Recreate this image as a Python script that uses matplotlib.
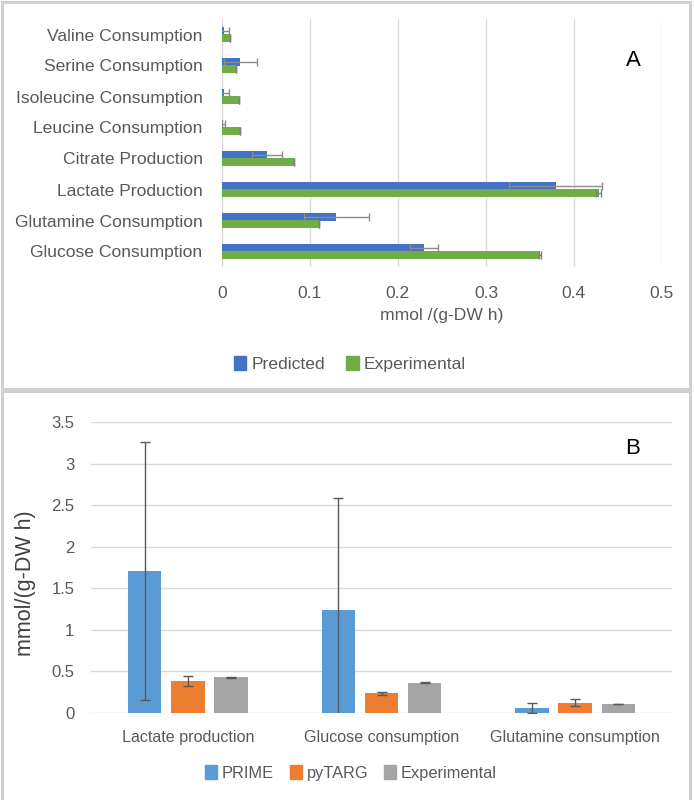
import matplotlib.pyplot as plt
import numpy as np
from matplotlib.patches import Patch, Rectangle

# Panel A data (bottom to top)
A_LABELS = [
    "Glucose Consumption",
    "Glutamine Consumption",
    "Lactate Production",
    "Citrate Production",
    "Leucine Consumption",
    "Isoleucine Consumption",
    "Serine Consumption",
    "Valine Consumption",
]
A_PRED = [0.230, 0.130, 0.379, 0.051, 0.0015, 0.002, 0.021, 0.002]
A_PRED_ERR = [0.016, 0.037, 0.053, 0.017, 0.002, 0.0065, 0.019, 0.006]
A_EXP = [0.361, 0.110, 0.428, 0.0815, 0.020, 0.0195, 0.0155, 0.0095]
A_EXP_ERR = [0.001, 0.0, 0.003, 0.0, 0.0, 0.0, 0.0, 0.0]
A_TICKS = [0, 0.1, 0.2, 0.3, 0.4, 0.5]

# Panel B data
B_LABELS = ["Lactate production", "Glucose consumption", "Glutamine consumption"]
B_PRIME = [1.71, 1.24, 0.057]
B_PRIME_ERR = [1.55, 1.35, 0.058]
B_PYTARG = [0.38, 0.237, 0.125]
B_PYTARG_ERR = [0.06, 0.015, 0.04]
B_EXP = [0.43, 0.365, 0.11]
B_EXP_ERR = [0.004, 0.002, 0.002]
B_TICKS = [0, 0.5, 1, 1.5, 2, 2.5, 3, 3.5]
B_TICK_LABELS = ["0", "0.5", "1", "1.5", "2", "2.5", "3", "3.5"]

W, H = 694, 800
TXT = "#595959"
GRID = "#d9d9d9"

plt.rcParams["font.family"] = ["Liberation Sans", "DejaVu Sans"]

fig = plt.figure(figsize=(W / 100, H / 100), dpi=100)
fig.patch.set_facecolor("white")


def px_axes(left, top, right, bottom):
    return fig.add_axes([left / W, 1 - bottom / H, (right - left) / W, (bottom - top) / H])


# panel frames
for y0, y1 in [(2, 389), (391, 802)]:
    fig.patches.append(Rectangle((2 / W, 1 - y1 / H), 688 / W, (y1 - y0) / H,
                                 transform=fig.transFigure, fill=False,
                                 edgecolor="#d0d0d0", linewidth=2.2, zorder=0))

# ---------- Panel A ----------
ax = px_axes(222, 19, 662, 267)
y = np.arange(len(A_LABELS))
h = 0.235
ax.barh(y + h / 2, A_PRED, height=h, color="#4472C4", zorder=3)
ax.barh(y - h / 2, A_EXP, height=h, color="#70AD47", zorder=3)
ax.errorbar(A_PRED, y + h / 2, xerr=A_PRED_ERR, fmt="none", ecolor="#8c8c8c",
            elinewidth=1, capsize=3, capthick=1, zorder=4)
ax.errorbar(A_EXP, y - h / 2, xerr=A_EXP_ERR, fmt="none", ecolor="#7f7f7f",
            elinewidth=1, capsize=3, capthick=1, zorder=4)
ax.set_xlim(0, 0.5)
ax.set_ylim(-0.5, len(A_LABELS) - 0.5)
ax.set_xticks(A_TICKS)
ax.set_xticklabels([f"{t:g}" for t in A_TICKS])
ax.set_yticks(y)
ax.set_yticklabels(A_LABELS)
ax.tick_params(axis="both", length=0, labelsize=12.6, labelcolor=TXT)
ax.tick_params(axis="x", pad=14)
ax.tick_params(axis="y", pad=14)
ax.grid(axis="x", color=GRID, linewidth=1, zorder=0)
ax.set_axisbelow(True)
for s in ax.spines.values():
    s.set_visible(False)
ax.set_xlabel("mmol /(g-DW h)", fontsize=12.6, color=TXT, labelpad=5)
ax.text(633 / W, 1 - 60 / H, "A", transform=fig.transFigure, fontsize=16,
        ha="center", va="center", color="black")
fig.legend(handles=[Patch(color="#4472C4", label="Predicted"),
                    Patch(color="#70AD47", label="Experimental")],
           loc="center", bbox_to_anchor=(350 / W, 1 - 364 / H), ncol=2,
           frameon=False, fontsize=12.6, labelcolor=TXT, handlelength=0.7,
           handleheight=0.9, handletextpad=0.3, columnspacing=1.2)

# ---------- Panel B ----------
bx = px_axes(91, 422, 672, 713)
x = np.arange(len(B_LABELS))
w = 0.173
off = 0.223
bx.bar(x - off, B_PRIME, width=w, color="#5B9BD5", zorder=3)
bx.bar(x, B_PYTARG, width=w, color="#ED7D31", zorder=3)
bx.bar(x + off, B_EXP, width=w, color="#A5A5A5", zorder=3)
for xs, vals, errs in [(x - off, B_PRIME, B_PRIME_ERR), (x, B_PYTARG, B_PYTARG_ERR),
                       (x + off, B_EXP, B_EXP_ERR)]:
    bx.errorbar(xs, vals, yerr=errs, fmt="none", ecolor="#595959", elinewidth=1,
                capsize=3.5, capthick=1, zorder=4)
bx.set_ylim(0, 3.5)
bx.set_xlim(-0.5, len(B_LABELS) - 0.5)
bx.set_yticks(B_TICKS)
bx.set_yticklabels(B_TICK_LABELS)
bx.set_xticks(x)
bx.set_xticklabels(B_LABELS)
bx.tick_params(axis="y", length=0, labelsize=12, labelcolor=TXT, pad=12)
bx.tick_params(axis="x", length=0, labelsize=11.6, labelcolor=TXT, pad=12)
bx.grid(axis="y", color=GRID, linewidth=1, zorder=0)
bx.set_axisbelow(True)
for s in bx.spines.values():
    s.set_visible(False)
bx.set_ylabel("mmol/(g-DW h)", fontsize=15.5, color="#404040")
bx.yaxis.set_label_coords(36 / W, 1 - 583 / H, transform=fig.transFigure)
bx.text(633 / W, 1 - 448 / H, "B", transform=fig.transFigure, fontsize=16,
        ha="center", va="center", color="black")
fig.legend(handles=[Patch(color="#5B9BD5", label="PRIME"),
                    Patch(color="#ED7D31", label="pyTARG"),
                    Patch(color="#A5A5A5", label="Experimental")],
           loc="center", bbox_to_anchor=(351 / W, 1 - 773 / H), ncol=3,
           frameon=False, fontsize=11.8, labelcolor=TXT, handlelength=0.7,
           handleheight=0.9, handletextpad=0.3, columnspacing=1.0)

fig.savefig("out.png", dpi=100, facecolor="white")
